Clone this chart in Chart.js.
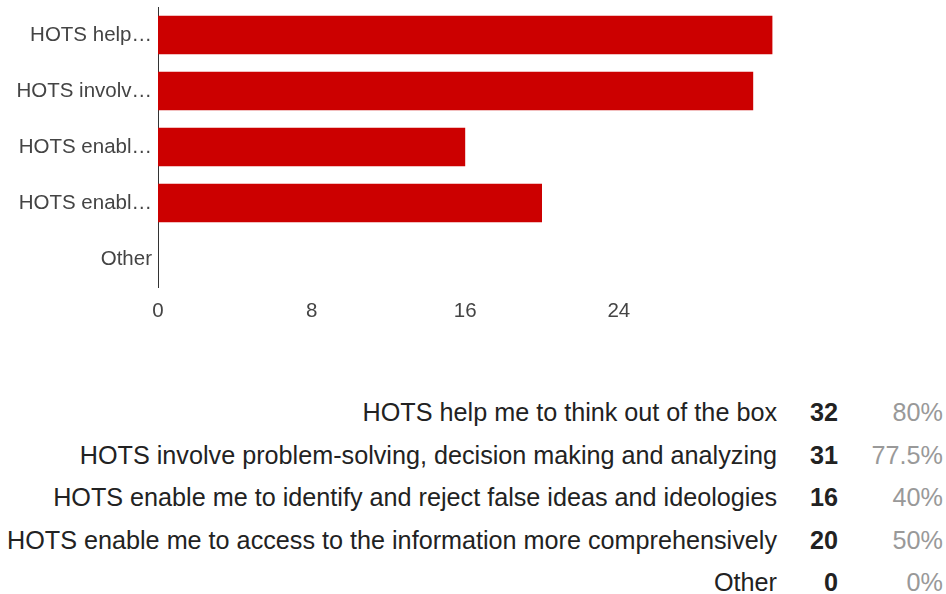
<!DOCTYPE html>
<html>
<head>
<meta charset="utf-8">
<script src="https://cdn.jsdelivr.net/npm/chart.js@4.4.0/dist/chart.umd.min.js"></script>
<style>
  body { margin: 0; background: #fff; font-family: "Liberation Sans", Arial, sans-serif; }
  #wrap { position: relative; width: 946px; height: 594px; overflow: hidden; }
  #chartBox { position: absolute; left: 0; top: 0; width: 946px; height: 330px; }
  .cell { position: absolute; font-size: 25.2px; line-height: 25px; white-space: nowrap; text-align: right; }
  .lab { color: #222; }
  .cnt { color: #222; font-weight: bold; }
  .pct { color: #999; }
</style>
</head>
<body>
<div id="wrap">
  <div id="chartBox"><canvas id="mychart1"></canvas></div>
  <div id="summary"></div>
</div>
<script>
// answers, short axis labels as shown, counts and percents
var fullLabels = [
  "HOTS help me to think out of the box",
  "HOTS involve problem-solving, decision making and analyzing",
  "HOTS enable me to identify and reject false ideas and ideologies",
  "HOTS enable me to access to the information more comprehensively",
  "Other"
];
var tickLabels = ["HOTS help\u2026", "HOTS involv\u2026", "HOTS enabl\u2026", "HOTS enabl\u2026", "Other"];
var counts = [32, 31, 16, 20, 0];
var percents = ["80%", "77.5%", "40%", "50%", "0%"];
var xTicks = [0, 8, 16, 24];

function BuildChart(labels, values){
  var ctx = document.getElementById("mychart1").getContext('2d');
  var mychart = new Chart(ctx, {
    type: 'bar',
    data: {
      labels: labels,
      datasets: [{
        data: values,
        backgroundColor: '#cc0000',
        borderWidth: 0,
        barPercentage: 0.69,
        categoryPercentage: 1
      }]
    },
    options: {
      indexAxis: 'y',
      responsive: true,
      maintainAspectRatio: false,
      animation: false,
      layout: { padding: { top: 7, right: 20, left: 0, bottom: 0 } },
      plugins: { legend: { display: false }, tooltip: { enabled: false } },
      scales: {
        x: {
          min: 0, max: 40,
          grid: { display: false, drawTicks: false },
          border: { display: false },
          afterBuildTicks: function(scale){
            scale.ticks = xTicks.map(function(v){ return { value: v }; });
          },
          afterFit: function(scale){ scale.height = 43; },
          ticks: {
            padding: 12,
            color: '#444',
            font: { family: 'Liberation Sans', size: 20.5 }
          }
        },
        y: {
          grid: { display: false, drawTicks: false },
          border: { display: true, color: '#333', width: 1 },
          afterFit: function(scale){
            scale.width = 158;
            scale.paddingTop = 0;
            scale.paddingBottom = 0;
          },
          ticks: {
            padding: 6,
            color: '#444',
            font: { family: 'Liberation Sans', size: 20.5 }
          }
        }
      }
    }
  });
  return mychart;
}

function BuildSummary(){
  var box = document.getElementById("summary");
  var top0 = 400, step = 42.5;
  for (var i = 0; i < fullLabels.length; i++) {
    var t = top0 + i * step;
    var cols = [
      ['lab', fullLabels[i], 777],
      ['cnt', String(counts[i]), 838],
      ['pct', percents[i], 943]
    ];
    cols.forEach(function(c){
      var d = document.createElement('div');
      d.className = 'cell ' + c[0];
      d.textContent = c[1];
      d.style.top = t + 'px';
      d.style.right = (946 - c[2]) + 'px';
      box.appendChild(d);
    });
  }
}

BuildChart(tickLabels, counts);
BuildSummary();
</script>
</body>
</html>
